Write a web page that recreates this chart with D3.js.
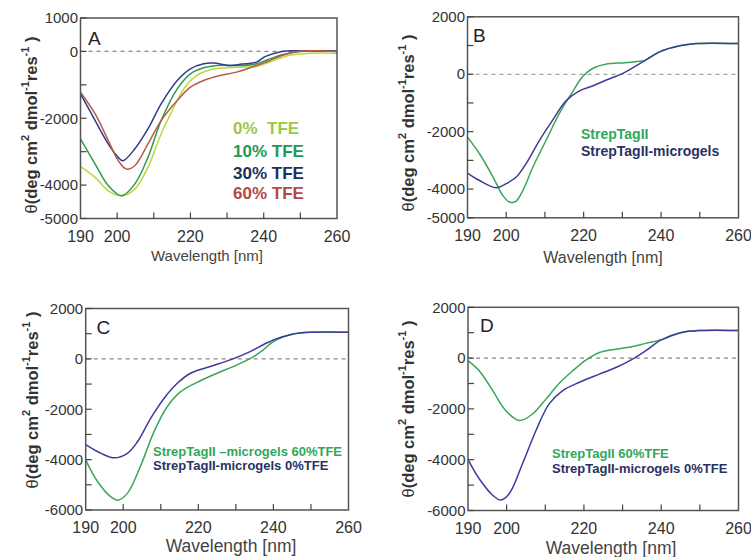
<!DOCTYPE html>
<html><head><meta charset="utf-8">
<script src="https://cdn.jsdelivr.net/npm/d3@7"></script>
<style>html,body{margin:0;padding:0;background:#fff;} svg{display:block;font-family:"Liberation Sans",Arial,sans-serif;}</style>
</head><body>
<svg id="chart" width="751" height="557"></svg>
<script>
// ---------- data (wavelength nm, ellipticity) ----------
const xTickLabels = [190, 200, 220, 240, 260];
const yTicksA = [1000, 0, -2000, -4000, -5000];
const yTicksB = [2000, 0, -2000, -4000, -5000];
const yTicksCD = [2000, 0, -2000, -4000, -6000];

const legendA = ["0%  TFE", "10% TFE", "30% TFE", "60% TFE"];
const legendB = ["StrepTagII", "StrepTagII-microgels"];
const legendC = ["StrepTagII \u2013microgels 60%TFE", "StrepTagII-microgels 0%TFE"];
const legendD = ["StrepTagII 60%TFE", "StrepTagII-microgels 0%TFE"];

const a_tfe0 = [[190,-3450],[194,-3770],[197.6,-4170],[201.2,-4320],[204.8,-4120],[208.4,-3470],[212,-2470],[214.6,-1870],[218.2,-1120],[221.8,-720],[225.4,-550],[229.9,-490],[234,-470],[238,-450],[242,-300],[246.8,-120],[250,-80],[255,-50],[260,-60]];
const a_tfe10 = [[190,-2620],[194,-3370],[197.6,-4020],[201.2,-4320],[204.8,-3970],[208.4,-3170],[212,-2070],[216.4,-1120],[220,-670],[223.6,-490],[227.2,-420],[234.4,-420],[238,-370],[241,-250],[245,-100],[250,0],[255,10],[260,0]];
const a_tfe30 = [[190,-1270],[194,-2070],[197.6,-2770],[200.3,-3170],[201.6,-3270],[204.8,-2920],[208.4,-2320],[212,-1570],[216.4,-870],[220,-520],[223.6,-370],[226.3,-350],[230.8,-420],[234,-380],[238,-320],[240.5,-150],[245,0],[250,20],[255,20],[260,10]];
const a_tfe60 = [[190,-1220],[194,-1870],[197.6,-2670],[200.3,-3270],[202.5,-3520],[204.8,-3420],[208.4,-2770],[212,-2070],[216.4,-1470],[220,-1070],[223.6,-870],[228.1,-720],[232.6,-620],[238,-420],[241,-300],[245,-120],[250,10],[255,20],[260,0]];

const b_strep = [[190,-2190],[193.1,-2770],[196.6,-3580],[199.1,-4220],[200.8,-4450],[202.4,-4440],[204.3,-4050],[206.9,-3230],[210.3,-2300],[213.7,-1370],[217.1,-620],[219.7,-90],[222.3,200],[225.7,350],[230.8,400],[234.5,450],[236,490],[239.6,780],[244.8,990],[249.1,1070],[260,1070]];
const b_micro = [[190,-3440],[193.1,-3700],[197.4,-3950],[200,-3810],[202.6,-3580],[205.1,-3120],[208.6,-2300],[212,-1600],[215.4,-930],[218.9,-580],[222.3,-410],[225.7,-210],[230,20],[233.4,280],[236,490],[239.6,780],[244.8,990],[249.1,1070],[260,1070]];

const c_micro60 = [[190,-4020],[193.2,-4880],[196.7,-5480],[198.5,-5610],[201.1,-5340],[204.7,-4220],[208.2,-2890],[211.7,-1900],[215.3,-1300],[219.7,-930],[225,-570],[230.3,-240],[234.7,90],[237.3,360],[240,690],[245,980],[250,1060],[260,1060]];
const c_micro0 = [[190,-3400],[194.1,-3750],[197.6,-3930],[201.1,-3750],[203.8,-3290],[207.3,-2360],[210.9,-1560],[214.4,-970],[217.9,-570],[223.2,-300],[228.5,-40],[233.8,290],[237.3,560],[240,755],[245,980],[250,1060],[260,1060]];

const d_strep60 = [[190,-100],[192.9,-500],[196.4,-1280],[199.8,-2070],[203.3,-2460],[206.7,-2200],[210.2,-1610],[213.6,-990],[217.1,-500],[220.5,-80],[224,220],[228.3,350],[232.6,460],[236,580],[240,720],[245,1000],[250,1085],[260,1085]];
const d_micro0 = [[190,-4000],[192.9,-4750],[196.4,-5400],[198.5,-5590],[200.7,-5330],[204.1,-4160],[207.6,-2850],[211,-1800],[214.5,-1280],[218.8,-950],[224,-630],[228.3,-370],[232.6,-40],[236,290],[240,720],[245,1000],[250,1085],[260,1085]];

// ---------- drawing ----------
const svg = d3.select("#chart");

const panels = [
  { letter:"A", xr:[80.5,337], yd:[-5000,1000], yr:[218.5,18], yTicks:yTicksA,
    series:[{d:a_tfe0,c:"#bcd640"},{d:a_tfe10,c:"#2f9a4e"},{d:a_tfe30,c:"#2f3c8c"},{d:a_tfe60,c:"#b85a48"}],
    legend:legendA, legendColors:["#9cc84a","#1f9a55","#1e2f5e","#b5483f"], legX:233, legY:[134,157,178.5,198.5], legFont:17,
    letterPos:[88,45], yLab:[31,125], xLab:[207,261], xLabFont:15 },
  { letter:"B", xr:[467.5,738.5], yd:[-5000,2000], yr:[217.8,16.8], yTicks:yTicksB,
    series:[{d:b_strep,c:"#3aa65a"},{d:b_micro,c:"#3c3c9a"}],
    legend:legendB, legendColors:["#2fa85a","#2b3162"], legX:581, legY:[139,156], legFont:14,
    letterPos:[473,41.7], yLab:[408,123], xLab:[603,263], xLabFont:16 },
  { letter:"C", xr:[85.7,348.5], yd:[-6000,2000], yr:[510,308.5], yTicks:yTicksCD,
    series:[{d:c_micro60,c:"#3aa65a"},{d:c_micro0,c:"#3c3c9a"}],
    legend:legendC, legendColors:["#2fa85a","#2b3162"], legX:153, legY:[455.5,469.5], legFont:13,
    letterPos:[96.5,334], yLab:[32,400], xLab:[231,552], xLabFont:17.5 },
  { letter:"D", xr:[468,738.5], yd:[-6000,2000], yr:[510.5,307.3], yTicks:yTicksCD,
    series:[{d:d_strep60,c:"#3aa65a"},{d:d_micro0,c:"#3c3c9a"}],
    legend:legendD, legendColors:["#2fa85a","#2b3162"], legX:552, legY:[457.5,472.5], legFont:13,
    letterPos:[480,332], yLab:[408,409], xLab:[611,554], xLabFont:17.5 }
];

panels.forEach(p => {
  const x = d3.scaleLinear().domain([190,260]).range(p.xr);
  const y = d3.scaleLinear().domain(p.yd).range(p.yr);
  const g = svg.append("g");
  const [x0,x1] = p.xr, [yb,yt] = p.yr;

  // zero dashed line
  g.append("line").attr("x1",x0).attr("x2",x1).attr("y1",y(0)).attr("y2",y(0))
    .attr("stroke","#8a8a8a").attr("stroke-width",1.2).attr("stroke-dasharray","4,4");

  // curves
  const line = d3.line().x(d=>x(d[0])).y(d=>y(d[1])).curve(d3.curveCatmullRom.alpha(0.5));
  p.series.forEach(s => {
    g.append("path").datum(s.d).attr("d",line).attr("fill","none")
      .attr("stroke",s.c).attr("stroke-width",1.5).attr("stroke-linejoin","round");
  });

  // frame
  g.append("rect").attr("x",x0).attr("y",yt).attr("width",x1-x0).attr("height",yb-yt)
    .attr("fill","none").attr("stroke","#555").attr("stroke-width",1.5);

  // y ticks (inside, every 1000)
  const yMinor = d3.range(p.yd[0], p.yd[1]+1, 1000);
  g.selectAll(".yt").data(yMinor).enter().append("line")
    .attr("x1",x0).attr("x2",x0+6).attr("y1",d=>y(d)).attr("y2",d=>y(d))
    .attr("stroke","#444").attr("stroke-width",1.2);
  // x ticks (inside, every 10 nm)
  g.selectAll(".xt").data(d3.range(200,260,10)).enter().append("line")
    .attr("x1",d=>x(d)).attr("x2",d=>x(d)).attr("y1",yb).attr("y2",yb-6)
    .attr("stroke","#444").attr("stroke-width",1.2);

  // y tick labels
  g.selectAll(".yl").data(p.yTicks).enter().append("text")
    .attr("x",x0-2.5).attr("y",d=>y(d)).attr("dy","0.35em")
    .attr("text-anchor","end").attr("font-size",15).attr("fill","#333")
    .text(d=>d);
  // x tick labels
  g.selectAll(".xl").data(xTickLabels).enter().append("text")
    .attr("x",d=>x(d)).attr("y",yb+23)
    .attr("text-anchor","middle").attr("font-size",16).attr("fill","#333")
    .text(d=>d);

  // x title
  g.append("text").attr("x",p.xLab[0]).attr("y",p.xLab[1]).attr("text-anchor","middle")
    .attr("font-size",p.xLabFont).attr("fill","#444").text("Wavelength [nm]");

  // y title
  const yl = g.append("text").attr("transform",`translate(${p.yLab[0]},${p.yLab[1]}) rotate(-90)`)
    .attr("text-anchor","middle").attr("dominant-baseline","central")
    .attr("font-size",16.5).attr("font-weight","bold").attr("fill","#333");
  yl.append("tspan").attr("font-weight","normal").text("\u03b8");
  yl.append("tspan").text("(deg cm");
  yl.append("tspan").attr("font-size",11).attr("dy",-6).text("2");
  yl.append("tspan").attr("dy",6).text(" dmol");
  yl.append("tspan").attr("font-size",11).attr("dy",-6).text("-1");
  yl.append("tspan").attr("dy",6).text("res");
  yl.append("tspan").attr("font-size",11).attr("dy",-6).text("-1");
  yl.append("tspan").attr("dy",6).text(" )");

  // panel letter
  g.append("text").attr("x",p.letterPos[0]).attr("y",p.letterPos[1])
    .attr("font-size",19).attr("fill","#222").text(p.letter);

  // legend
  p.legend.forEach((t,i) => {
    g.append("text").attr("x",p.legX).attr("y",p.legY[i])
      .attr("font-size",p.legFont).attr("font-weight","bold")
      .attr("fill",p.legendColors[i]).attr("xml:space","preserve").style("white-space","pre")
      .text(t);
  });
});
</script>
</body></html>
